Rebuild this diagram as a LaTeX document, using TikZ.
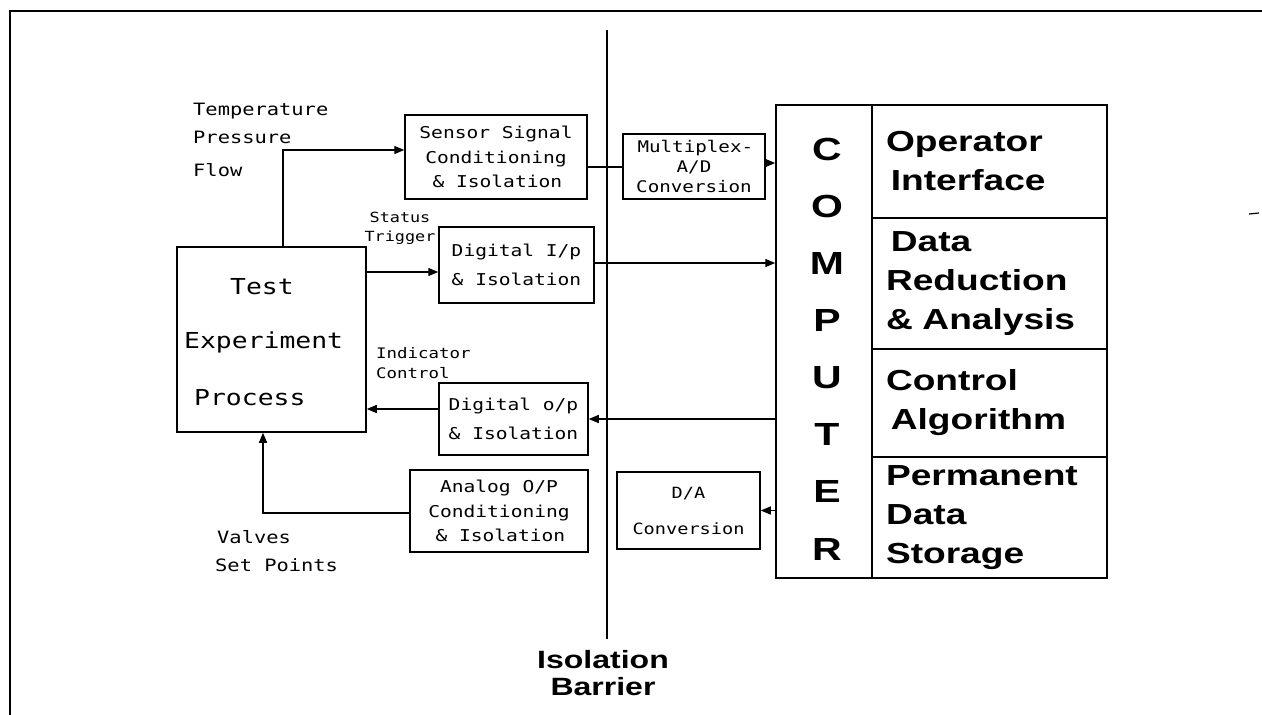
\documentclass[tikz,border=0pt]{standalone}
\usepackage{fontspec}
\usetikzlibrary{arrows.meta}
\newfontfamily\plotfont[FakeStretch=1.2]{DejaVu Sans Mono}
\newfontfamily\headfont[FakeStretch=1.28]{Liberation Sans}
\tikzset{
  box/.style={draw, line width=1.5pt, rectangle, inner sep=0pt, align=center},
  lbl/.style={inner sep=0pt, font=\plotfont\fontsize{17}{24}\selectfont},
  boxtxt/.style={font=\plotfont\fontsize{16.3}{24.5}\selectfont},
  section/.style={draw, line width=1.2pt, rectangle, minimum width=235pt,
    text width=207pt, inner xsep=14pt, inner ysep=0pt, align=left,
    font=\headfont\bfseries\fontsize{29}{39}\selectfont},
  conn/.style={line width=1.3pt},
  arr/.style={conn, -{Triangle[length=10pt,width=8pt]}},
}
\begin{document}
\begin{tikzpicture}[x=1pt,y=-1pt]
\useasboundingbox (0,0) rectangle (1262,715);
% outer frame (left and top edges)
\draw[line width=2.5pt] (10,715) -- (10,11) -- (1262,11);
% stray mark near the right edge
\coordinate (m1) at (1249,214);
\coordinate (m2) at (1259,213);
\draw[line width=1.2pt] (m1) -- (m2);

% isolation barrier
\coordinate (bt) at (607,30);
\coordinate (bb) at (607,639);
\draw[line width=2.6pt] (bt) -- (bb);
\node[font=\headfont\bfseries\fontsize{25}{27}\selectfont, align=center, inner sep=0pt]
  (barrier) at (603,673) {Isolation\\Barrier};

% process block
\node[box, minimum width=189pt, minimum height=185pt] (test) at (271.5,339.5) {};
\node[inner sep=0pt, font=\plotfont\fontsize{22}{24}\selectfont] (t1) at (262,287) {Test};
\node[inner sep=0pt, anchor=west, font=\plotfont\fontsize{22}{24}\selectfont] (t2) at (184,342) {Experiment};
\node[inner sep=0pt, anchor=west, font=\plotfont\fontsize{22}{24}\selectfont] (t3) at (194,398) {Process};

% interface blocks
\node[box, boxtxt, minimum width=182pt, minimum height=84pt] (sensor) at (496,157)
  {Sensor Signal\\Conditioning\\\,\& Isolation};
\node[box, minimum width=142pt, minimum height=65pt,
  font=\plotfont\fontsize{16}{20}\selectfont] (mux) at (694,166.5)
  {\,Multiplex-\\A/D\\Conversion};
\node[box, minimum width=155pt, minimum height=76pt,
  font=\plotfont\fontsize{16.3}{29}\selectfont] (digin) at (516.5,265)
  {Digital I/p\\\& Isolation};
\node[box, minimum width=149pt, minimum height=72pt,
  font=\plotfont\fontsize{16.3}{29}\selectfont] (digout) at (513.5,419)
  {Digital o/p\\\& Isolation};
\node[box, boxtxt, minimum width=178pt, minimum height=82pt] (analog) at (499,511)
  {Analog O/P\\Conditioning\\\,\& Isolation};
\node[box, minimum width=143pt, minimum height=77pt,
  font=\plotfont\fontsize{15.5}{36}\selectfont] (da) at (688.5,510.5)
  {D/A\\Conversion};

% computer
\node[box, minimum width=96pt, minimum height=473pt] (comp) at (824,341.5) {};
\node[inner sep=0pt, align=center, font=\headfont\bfseries\fontsize{32}{57.1}\selectfont]
  (letters) at (827,349) {C\\O\\M\\P\\U\\T\\E\\R};
\node[section, minimum height=113pt] (oi) at (989.5,161.5) {Operator\\\,Interface};
\node[section, minimum height=131pt] (dr) at (989.5,283.5) {\,Data\\Reduction\\\& Analysis};
\node[section, minimum height=108pt] (ca) at (989.5,403) {Control\\\,Algorithm};
\node[section, minimum height=121pt] (ps) at (989.5,517.5) {Permanent\\Data\\Storage};

% signal labels
\node[lbl, anchor=west] (temp) at (193,111) {Temperature};
\node[lbl, anchor=west] (pres) at (193,137) {Pressure};
\node[lbl, anchor=west] (flow) at (193,170) {Flow};
\node[inner sep=0pt, align=center, font=\plotfont\fontsize{14}{19}\selectfont]
  (status) at (400,228) {Status\\Trigger};
\node[inner sep=0pt, align=left, font=\plotfont\fontsize{14.5}{20}\selectfont,
  anchor=west] (indic) at (376,363) {Indicator\\Control};
\node[lbl, anchor=west] (valves) at (217,537) {Valves};
\node[lbl, anchor=west] (setp) at (215,565) {Set Points};

% connectors
\draw[arr] ([xshift=11.5pt]test.north) |- ([yshift=7pt]sensor.west);
\draw[conn] ([yshift=-10pt]sensor.east) -- ([yshift=-10pt]sensor.east -| mux.west);
\draw[arr] ([yshift=3.5pt]mux.east) -- ([yshift=3.5pt]mux.east -| comp.west);
\draw[arr] ([yshift=-7pt]digin.west -| test.east) -- ([yshift=-7pt]digin.west);
\draw[arr] ([yshift=2pt]digin.east) -- ([yshift=2pt]digin.east -| comp.west);
\draw[arr] (digout.east -| comp.west) -- (digout.east);
\draw[arr] ([yshift=10pt]digout.west) -- ([yshift=10pt]digout.west -| test.east);
\draw[arr] ([yshift=-2pt]analog.west) -| ([xshift=-8.5pt]test.south);
\draw[arr] (da.east -| comp.west) -- (da.east);
\end{tikzpicture}
\end{document}
